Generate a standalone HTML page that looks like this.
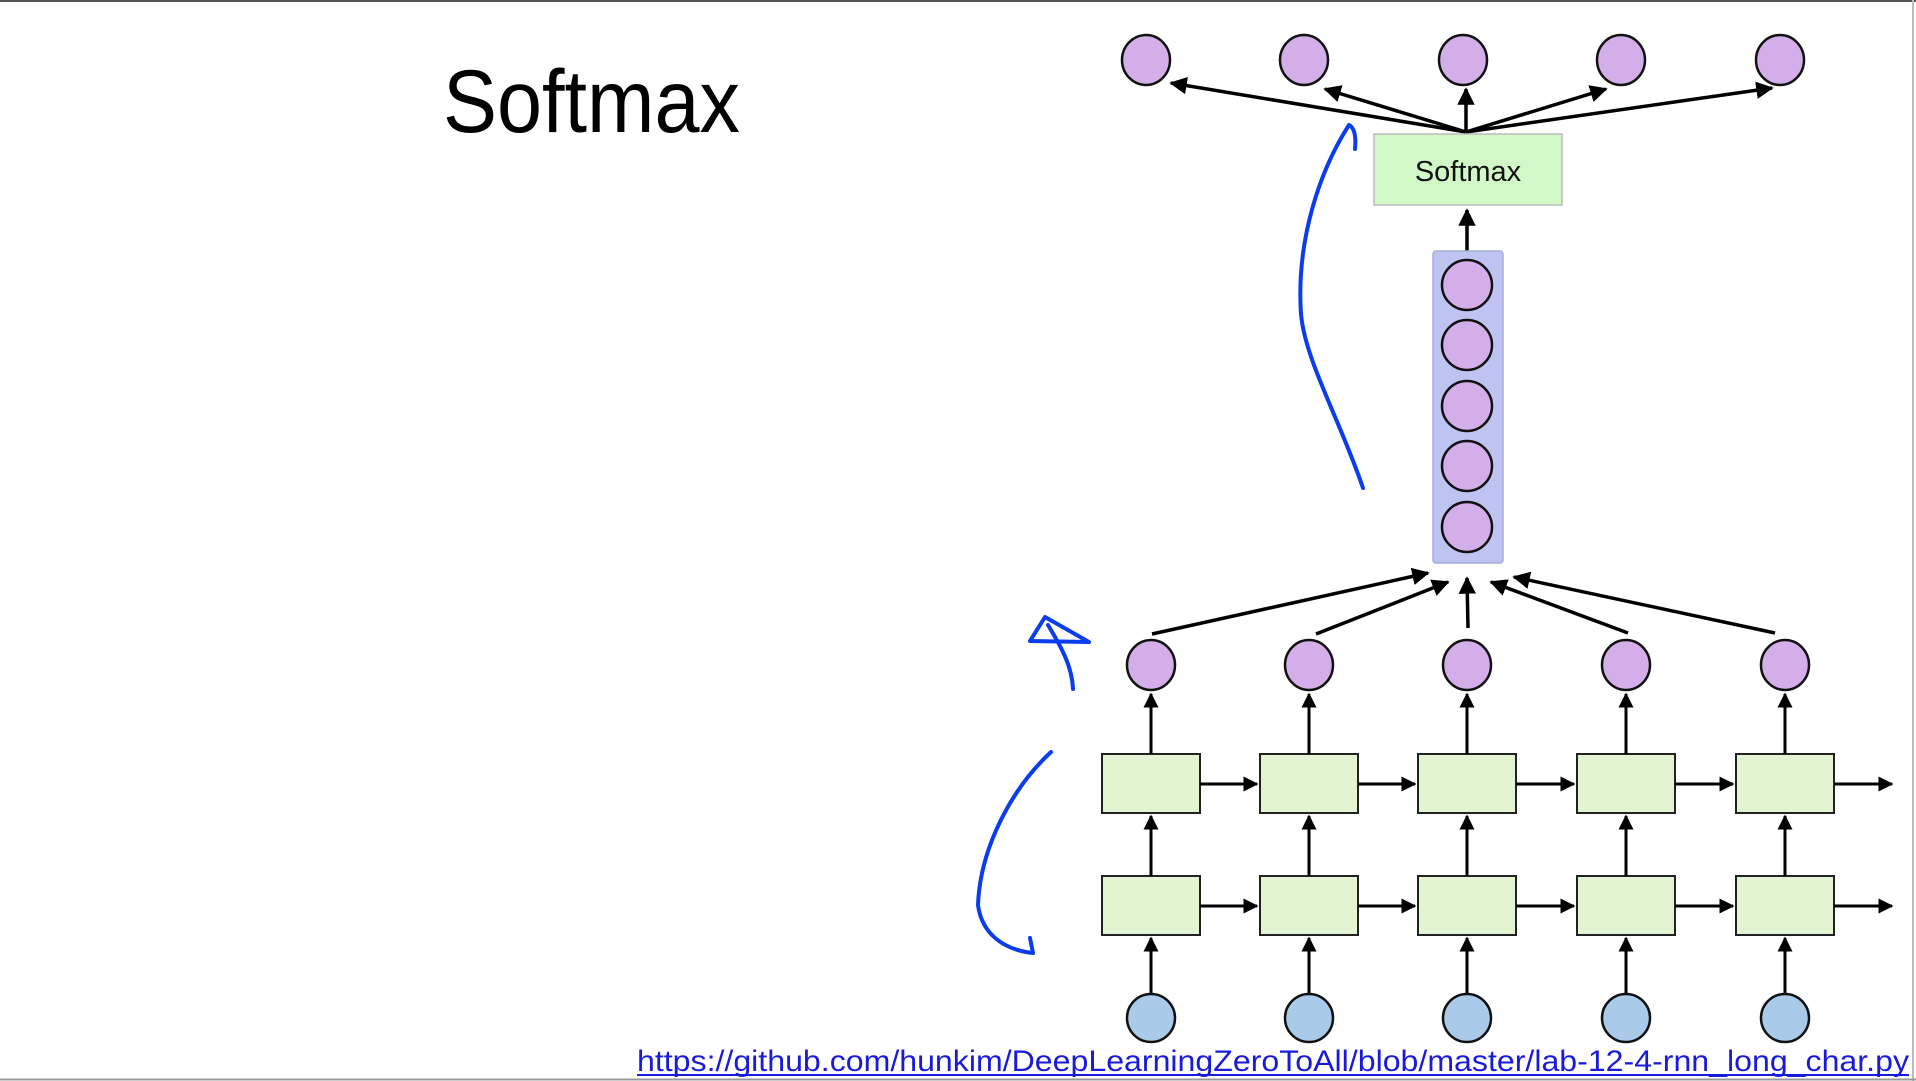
<!DOCTYPE html>
<html><head><meta charset="utf-8"><style>
html,body{margin:0;padding:0;background:#fff;}
svg{display:block;}
</style></head><body>
<svg width="1916" height="1081" viewBox="0 0 1916 1081" xmlns="http://www.w3.org/2000/svg">
<defs>
<marker id="ah" viewBox="0 0 10 10" refX="9" refY="5" markerWidth="5" markerHeight="5" orient="auto" markerUnits="strokeWidth"><path d="M0,0 L10,5 L0,10 z" fill="#000"/></marker>
</defs>
<rect x="0" y="0" width="1916" height="1081" fill="#fff"/>
<line x1="0" y1="1" x2="1916" y2="1" stroke="#555" stroke-width="2"/>
<line x1="1913" y1="0" x2="1913" y2="1081" stroke="#bbb" stroke-width="2"/>
<line x1="0" y1="1079.5" x2="1916" y2="1079.5" stroke="#999" stroke-width="2"/>

<text x="443" y="132" font-family="Liberation Sans, sans-serif" font-size="89" textLength="297" lengthAdjust="spacingAndGlyphs" fill="#000">Softmax</text>

<g fill="#d4aee8" stroke="#111" stroke-width="2.5">
<ellipse cx="1146" cy="60" rx="24" ry="25"/>
<ellipse cx="1304" cy="60" rx="24" ry="25"/>
<ellipse cx="1463" cy="60" rx="24" ry="25"/>
<ellipse cx="1621" cy="60" rx="24" ry="25"/>
<ellipse cx="1780" cy="60" rx="24" ry="25"/>
</g>
<g stroke="#000" stroke-width="3.5" fill="none" marker-end="url(#ah)">
<line x1="1466" y1="132" x2="1171" y2="83"/>
<line x1="1466" y1="132" x2="1325" y2="89"/>
<line x1="1466" y1="132" x2="1466" y2="89"/>
<line x1="1466" y1="132" x2="1606" y2="89"/>
<line x1="1466" y1="132" x2="1772" y2="88"/>
</g>
<rect x="1374" y="134" width="188" height="71" fill="#d3f8c8" stroke="#bbb" stroke-width="1.5"/>
<text x="1468" y="181" text-anchor="middle" font-family="Liberation Sans, sans-serif" font-size="29" fill="#111">Softmax</text>
<line x1="1467" y1="251" x2="1467" y2="210" stroke="#000" stroke-width="3.5" marker-end="url(#ah)"/>

<rect x="1433" y="251" width="70" height="312" rx="3" fill="#bfc3f2" stroke="#a8acd8" stroke-width="1.5"/>
<g fill="#d4aee8" stroke="#111" stroke-width="2.5">
<ellipse cx="1467" cy="285" rx="25" ry="25"/>
<ellipse cx="1467" cy="345" rx="25" ry="25"/>
<ellipse cx="1467" cy="406" rx="25" ry="25"/>
<ellipse cx="1467" cy="466" rx="25" ry="25"/>
<ellipse cx="1467" cy="527" rx="25" ry="25"/>
</g>

<g stroke="#000" stroke-width="3.5" fill="none" marker-end="url(#ah)">
<line x1="1152" y1="634" x2="1428" y2="573"/>
<line x1="1316" y1="634" x2="1448" y2="582"/>
<line x1="1468" y1="628" x2="1467" y2="578"/>
<line x1="1628" y1="633" x2="1491" y2="582"/>
<line x1="1775" y1="633" x2="1514" y2="577"/>
</g>

<g fill="#d4aee8" stroke="#111" stroke-width="2.5">
<ellipse cx="1151" cy="665" rx="24" ry="25"/>
<ellipse cx="1309" cy="665" rx="24" ry="25"/>
<ellipse cx="1467" cy="665" rx="24" ry="25"/>
<ellipse cx="1626" cy="665" rx="24" ry="25"/>
<ellipse cx="1785" cy="665" rx="24" ry="25"/>
</g>
<g fill="#a9cbe9" stroke="#111" stroke-width="2.5">
<ellipse cx="1151" cy="1018" rx="24" ry="24"/>
<ellipse cx="1309" cy="1018" rx="24" ry="24"/>
<ellipse cx="1467" cy="1018" rx="24" ry="24"/>
<ellipse cx="1626" cy="1018" rx="24" ry="24"/>
<ellipse cx="1785" cy="1018" rx="24" ry="24"/>
</g>
<g fill="#e2f4d2" stroke="#222" stroke-width="2">
<rect x="1102" y="754" width="98" height="59"/>
<rect x="1260" y="754" width="98" height="59"/>
<rect x="1418" y="754" width="98" height="59"/>
<rect x="1577" y="754" width="98" height="59"/>
<rect x="1736" y="754" width="98" height="59"/>
<rect x="1102" y="876" width="98" height="59"/>
<rect x="1260" y="876" width="98" height="59"/>
<rect x="1418" y="876" width="98" height="59"/>
<rect x="1577" y="876" width="98" height="59"/>
<rect x="1736" y="876" width="98" height="59"/>
</g>
<g stroke="#000" stroke-width="3" fill="none" marker-end="url(#ah)">
<line x1="1151" y1="754" x2="1151" y2="694"/>
<line x1="1309" y1="754" x2="1309" y2="694"/>
<line x1="1467" y1="754" x2="1467" y2="694"/>
<line x1="1626" y1="754" x2="1626" y2="694"/>
<line x1="1785" y1="754" x2="1785" y2="694"/>
<line x1="1151" y1="876" x2="1151" y2="816"/>
<line x1="1309" y1="876" x2="1309" y2="816"/>
<line x1="1467" y1="876" x2="1467" y2="816"/>
<line x1="1626" y1="876" x2="1626" y2="816"/>
<line x1="1785" y1="876" x2="1785" y2="816"/>
<line x1="1151" y1="993" x2="1151" y2="938"/>
<line x1="1309" y1="993" x2="1309" y2="938"/>
<line x1="1467" y1="993" x2="1467" y2="938"/>
<line x1="1626" y1="993" x2="1626" y2="938"/>
<line x1="1785" y1="993" x2="1785" y2="938"/>
<line x1="1200" y1="784" x2="1257" y2="784"/>
<line x1="1358" y1="784" x2="1415" y2="784"/>
<line x1="1516" y1="784" x2="1574" y2="784"/>
<line x1="1675" y1="784" x2="1733" y2="784"/>
<line x1="1834" y1="784" x2="1892" y2="784"/>
<line x1="1200" y1="906" x2="1257" y2="906"/>
<line x1="1358" y1="906" x2="1415" y2="906"/>
<line x1="1516" y1="906" x2="1574" y2="906"/>
<line x1="1675" y1="906" x2="1733" y2="906"/>
<line x1="1834" y1="906" x2="1892" y2="906"/>
</g>

<g stroke="#0a3cf0" stroke-width="4" fill="none" stroke-linecap="round" stroke-linejoin="round">
<path d="M1363,488 C1340,420 1305,360 1301,314 C1296,240 1320,170 1349,125 C1355,128 1356,138 1355,149"/>
<path d="M1045,617 L1030,641 L1089,642 Z M1045,617 L1089,642"/>
<path d="M1048,625 C1060,645 1072,665 1073,689"/>
<path d="M1051,752 C1010,790 980,850 978,905 C982,935 1005,950 1033,953 L1030,938"/>
</g>

<text x="637" y="1071" font-family="Liberation Sans, sans-serif" font-size="30" textLength="1272" lengthAdjust="spacingAndGlyphs" fill="#1a1adc">https://github.com/hunkim/DeepLearningZeroToAll/blob/master/lab-12-4-rnn_long_char.py</text>
<line x1="637" y1="1075" x2="1909" y2="1075" stroke="#1a1adc" stroke-width="2"/>
</svg>
</body></html>
